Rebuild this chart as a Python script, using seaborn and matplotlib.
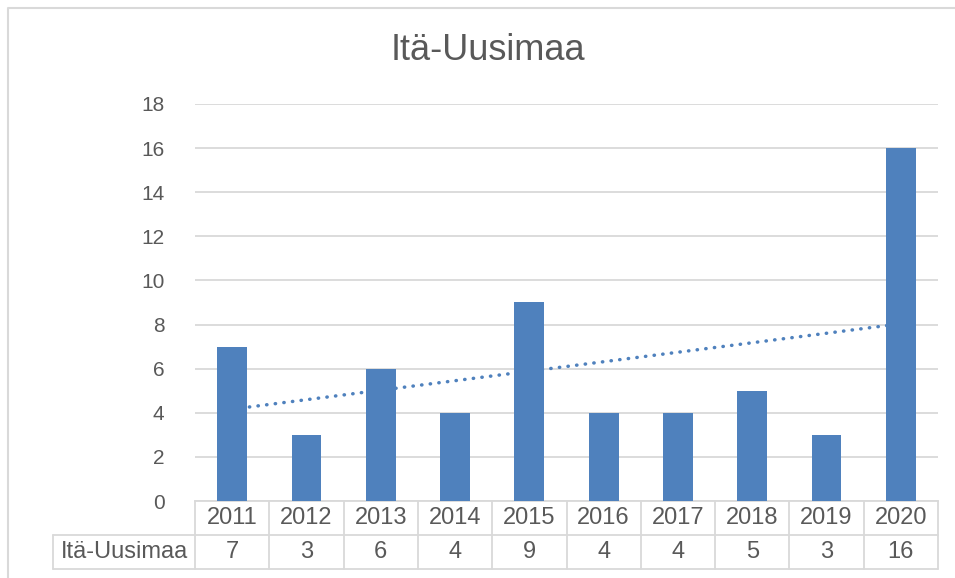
import numpy as np
import pandas as pd
import matplotlib
matplotlib.use('Agg')
import matplotlib.pyplot as plt
import matplotlib.transforms as mtransforms
from matplotlib.lines import Line2D
import seaborn as sns

# Données
vuodet  = ['2011', '2012', '2013', '2014', '2015', '2016', '2017', '2018', '2019', '2020']
arvot   = [7, 3, 6, 4, 9, 4, 4, 5, 3, 16]
sarja   = 'Itä-Uusimaa'
y_ticks = [0, 2, 4, 6, 8, 10, 12, 14, 16, 18]

BLUE  = '#4F81BD'
GRID  = '#D9D9D9'
TEXT  = '#595959'

sns.set_theme(style='white')
plt.rcParams['font.family'] = ['Liberation Sans', 'DejaVu Sans']

df = pd.DataFrame({'vuosi': vuodet, 'arvo': arvot})

fig = plt.figure(figsize=(9.55, 5.78), dpi=100)
ax = fig.add_axes([0.2042, 0.1332, 0.7780, 0.6869])

sns.barplot(data=df, x='vuosi', y='arvo', color=BLUE, saturation=1,
            width=0.4, linewidth=0, ax=ax, zorder=3)

# Trendiviiva (lineaarinen)
pos = np.arange(len(vuodet))
sns.regplot(x=pos, y=np.array(arvot, dtype=float), scatter=False, ci=None,
            ax=ax, color=BLUE,
            line_kws=dict(ls=(0, (0.1, 2.4)), lw=2.5, dash_capstyle='round',
                          zorder=4))

ax.set_xlim(-0.5, len(vuodet) - 0.5)
ax.set_ylim(0, 18)
ax.set_yticks(y_ticks)
ax.set_yticklabels([str(t) for t in y_ticks], fontsize=15, color=TEXT)
ax.tick_params(axis='y', length=0, pad=22)
ax.set_xticks([])
ax.set_xlabel('')
ax.set_ylabel('')
ax.grid(axis='y', color=GRID, lw=1.3, zorder=0)
for s in ['left', 'right', 'top']:
    ax.spines[s].set_visible(False)
ax.spines['bottom'].set_color(GRID)
ax.spines['bottom'].set_linewidth(1.3)

# Datataulukko
trans = mtransforms.blended_transform_factory(ax.transData, ax.transAxes)
rh = 34 / 397.0
lab_x = -0.191
kw = dict(color=GRID, lw=1.3, clip_on=False)
for i in range(len(vuodet) + 1):
    ax.plot([i - 0.5, i - 0.5], [0, -2 * rh], transform=trans, **kw)
ax.plot([lab_x, 1], [-rh, -rh], transform=ax.transAxes, **kw)
ax.plot([lab_x, 1], [-2 * rh, -2 * rh], transform=ax.transAxes, **kw)
ax.plot([lab_x, lab_x], [-rh, -2 * rh], transform=ax.transAxes, **kw)
for i, (v, a) in enumerate(zip(vuodet, arvot)):
    ax.text(i, -0.5 * rh, v, transform=trans, ha='center', va='center',
            fontsize=17, color=TEXT)
    ax.text(i, -1.5 * rh, str(a), transform=trans, ha='center', va='center',
            fontsize=17, color=TEXT)
ax.text((lab_x + 0) / 2, -1.5 * rh, sarja, transform=ax.transAxes,
        ha='center', va='center', fontsize=17, color=TEXT)

# Otsikko
fig.text(0.511, 0.913, sarja, ha='center', va='center', fontsize=26, color=TEXT)

# Kaavion reunus
fig.add_artist(Line2D([8 / 955, 8 / 955, 1.0], [0, 1 - 8 / 578, 1 - 8 / 578],
                      transform=fig.transFigure, color=GRID, lw=1.5))

plt.savefig('out.png', dpi=100)
